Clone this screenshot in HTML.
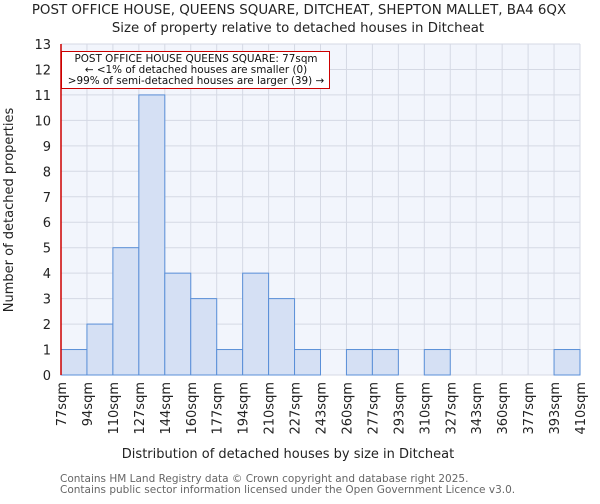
<!DOCTYPE html>
<html><head><meta charset="utf-8"><style>
body{margin:0;background:#fff;font-family:"DejaVu Sans","Liberation Sans",sans-serif}
</style></head><body>
<svg id="c" width="600" height="500" xmlns="http://www.w3.org/2000/svg" font-family="DejaVu Sans, Liberation Sans, sans-serif">
<text x="299" y="14" text-anchor="middle" font-size="13.4" fill="#222">POST OFFICE HOUSE, QUEENS SQUARE, DITCHEAT, SHEPTON MALLET, BA4 6QX</text>
<text x="298" y="32" text-anchor="middle" font-size="13.3" fill="#222">Size of property relative to detached houses in Ditcheat</text>
<rect x="61" y="44" width="519" height="331" fill="#f2f5fc"/>
<g id="grid"></g><g id="bars"></g><g id="yt"></g><g id="xt"></g>
<text x="288" y="458" text-anchor="middle" font-size="13" fill="#222">Distribution of detached houses by size in Ditcheat</text>
<text transform="translate(13,210) rotate(-90)" text-anchor="middle" font-size="13" fill="#222">Number of detached properties</text>
<line x1="61" y1="44" x2="61" y2="375" stroke="#c00" stroke-width="1.5"/>
<g>
<rect x="61.5" y="51.5" width="268" height="37" fill="#fff" stroke="#c00" stroke-width="1"/>
<text x="196" y="62" text-anchor="middle" font-size="10.4" fill="#111">POST OFFICE HOUSE QUEENS SQUARE: 77sqm</text>
<text x="196" y="73" text-anchor="middle" font-size="10.4" fill="#111">← &lt;1% of detached houses are smaller (0)</text>
<text x="196" y="84" text-anchor="middle" font-size="10.4" fill="#111">&gt;99% of semi-detached houses are larger (39) →</text>
</g>
<text x="60" y="482" font-size="10.5" fill="#666">Contains HM Land Registry data © Crown copyright and database right 2025.</text>
<text x="60" y="493" font-size="10.5" fill="#666">Contains public sector information licensed under the Open Government Licence v3.0.</text>
</svg>
<script>
const edgeLabels=["77sqm","94sqm","110sqm","127sqm","144sqm","160sqm","177sqm","194sqm","210sqm","227sqm","243sqm","260sqm","277sqm","293sqm","310sqm","327sqm","343sqm","360sqm","377sqm","393sqm","410sqm"];
const counts=[1,2,5,11,4,3,1,4,3,1,0,1,1,0,1,0,0,0,0,1];
const yTicks=[0,1,2,3,4,5,6,7,8,9,10,11,12,13];
const NS="http://www.w3.org/2000/svg";
const L=61,R=580,T=44,B=375,yMax=13;
const nb=counts.length;
const xs=i=>L+(R-L)*i/nb;
const ys=v=>B-(B-T)*v/yMax;
function mk(tag,attrs,parent){const e=document.createElementNS(NS,tag);for(const k in attrs)e.setAttribute(k,attrs[k]);document.getElementById(parent).appendChild(e);return e;}
yTicks.forEach(v=>{
 const g=mk("line",{x1:L,x2:R,y1:ys(v),y2:ys(v),stroke:"#d5d9e4","stroke-width":1},"grid");
 
 
 const t=mk("text",{x:L-10,y:ys(v)+5,"text-anchor":"end","font-size":13,fill:"#222"},"yt");
 t.textContent=v;
 
 
});
edgeLabels.forEach((lab,i)=>{
 const g=mk("line",{x1:xs(i),x2:xs(i),y1:T,y2:B,stroke:"#d5d9e4","stroke-width":1},"grid");
 
 
 const x=xs(i)+5;
 const t=mk("text",{x:x,y:382,"text-anchor":"end","font-size":13,fill:"#222",transform:`rotate(-90 ${x} 382)`},"xt");
 t.textContent=lab;
 
 
});
counts.forEach((c,i)=>{
 if(c<=0)return;
 const r=mk("rect",{x:xs(i),y:ys(c),width:xs(i+1)-xs(i),height:ys(0)-ys(c),fill:"#d5e0f4",stroke:"#5a8fd8","stroke-width":1},"bars");
 
 
});
</script>
</body></html>
